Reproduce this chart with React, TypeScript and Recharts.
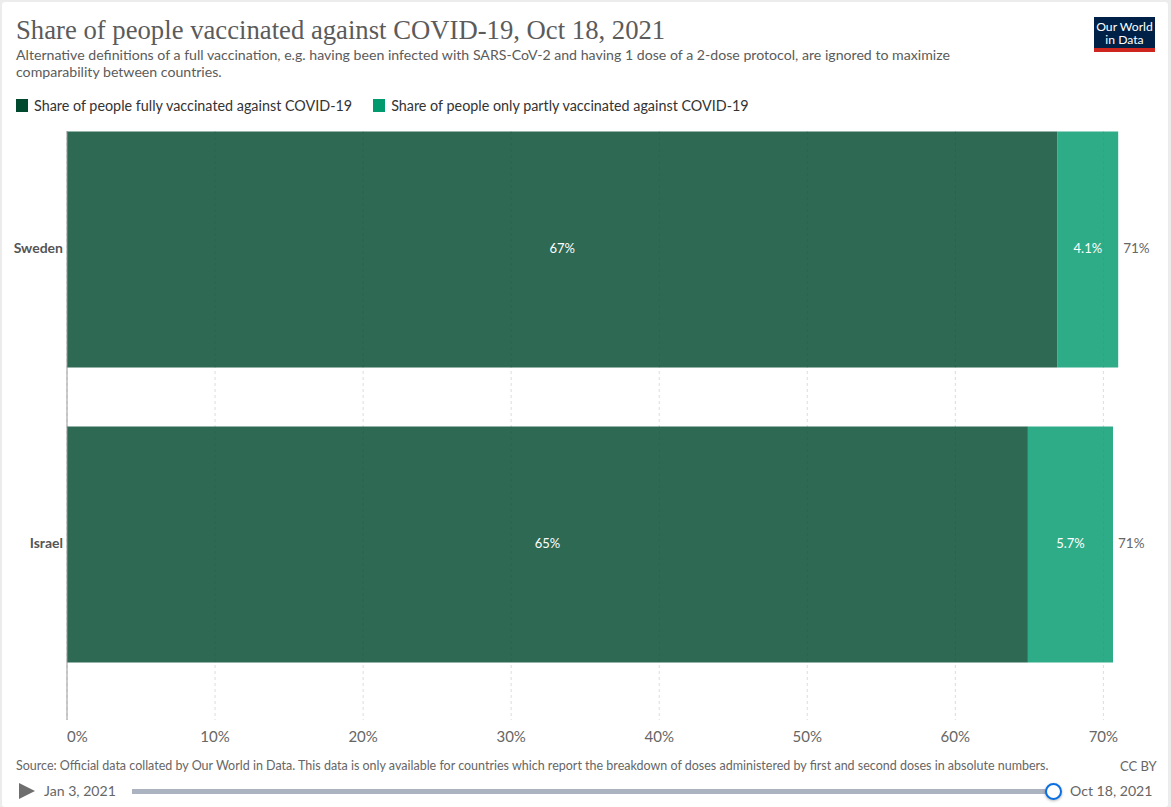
import { BarChart, Bar, XAxis, YAxis, CartesianGrid, LabelList, Legend } from "recharts";

const countries = ["Sweden", "Israel"];
const fully = [66.9, 64.9];
const partly = [4.1, 5.75];
const fullyLabels = ["67%", "65%"];
const partlyLabels = ["4.1%", "5.7%"];
const totalLabels = ["71%", "71%"];
const xTicks = [0, 10, 20, 30, 40, 50, 60, 70];
const seriesNames = [
  "Share of people fully vaccinated against COVID-19",
  "Share of people only partly vaccinated against COVID-19",
];
const seriesColors = ["#00482e", "#009a6e"];

const data = countries.map((name, i) => ({
  name,
  fully: fully[i],
  partly: partly[i],
  fullyLabel: fullyLabels[i],
  partlyLabel: partlyLabels[i],
  totalLabel: totalLabels[i],
}));

const FONT = "Lato, sans-serif";

function abs(left: number, top: number, extra: any = {}) {
  return { position: "absolute", left, top, whiteSpace: "nowrap", fontFamily: FONT, ...extra } as any;
}

function XTick({ x, y, payload }: any) {
  const first = payload.value === 0;
  return (
    <text x={x} y={y + 14} textAnchor={first ? "start" : "middle"} fontFamily={FONT} fontSize={15} fill="#666">
      {payload.value}%
    </text>
  );
}

function ChartLegend() {
  return (
    <div style={{ display: "flex", height: 18, fontFamily: FONT, fontSize: 14.35, color: "#333" }}>
      {seriesNames.map((name, i) => (
        <div key={name} style={{ display: "flex", alignItems: "center", marginRight: 21 }}>
          <span style={{ width: 12, height: 13, background: seriesColors[i], marginRight: 6 }} />
          {name}
        </div>
      ))}
    </div>
  );
}

export default function App() {
  return (
    <div style={{ position: "absolute", left: 0, top: 0, width: 1171, height: 807, background: "#ececec", overflow: "hidden" }}>
      <div style={{ position: "absolute", left: 2, top: 2, width: 1166, height: 805, background: "#fff", borderRadius: 3 }} />

      <div style={abs(16, 14, { fontFamily: "'Liberation Serif', serif", fontSize: 26.7, lineHeight: "32px", color: "#5b5b5b" })}>
        Share of people vaccinated against COVID-19, Oct 18, 2021
      </div>
      <div style={abs(16, 46, { fontSize: 14.15, lineHeight: "17px", color: "#5b5b5b" })}>
        Alternative definitions of a full vaccination, e.g. having been infected with SARS-CoV-2 and having 1 dose of a 2-dose protocol, are ignored to maximize
        <br />
        comparability between countries.
      </div>

      <div style={abs(1094, 17, { width: 61, height: 35, background: "#002147", borderBottom: "4px solid #ce261e", boxSizing: "border-box", color: "#fff", fontSize: 12.2, lineHeight: "13px", textAlign: "center", paddingTop: 3 })}>
        Our World
        <br />
        in Data
      </div>

      <div style={{ position: "absolute", left: 0, top: 0 }}>
        <BarChart
          width={1171}
          height={807}
          data={data}
          layout="vertical"
          barSize={236}
          margin={{ top: 113, right: 38, bottom: 0, left: 0 }}
        >
          <Legend
            verticalAlign="top"
            align="left"
            content={<ChartLegend />}
            wrapperStyle={{ left: 16, top: 96, width: 1000, height: 18 }}
          />
          <CartesianGrid horizontal={false} stroke="#ddd" strokeDasharray="3 3" verticalValues={xTicks} />
          <XAxis
            type="number"
            domain={[0, 72]}
            ticks={xTicks}
            height={87}
            axisLine={false}
            tickLine={false}
            tick={<XTick />}
          />
          <YAxis
            type="category"
            dataKey="name"
            width={67}
            padding={{ top: -29.5, bottom: 28.5 }}
            axisLine={{ stroke: "#999", strokeWidth: 1 }}
            tickLine={false}
            tickSize={0}
            tickMargin={4}
            tick={{ fontFamily: FONT, fontSize: 14, fontWeight: 700, fill: "#555", dy: -1 }}
          />
          <Bar dataKey="fully" stackId="a" name={seriesNames[0]} fill={seriesColors[0]} fillOpacity={0.82} isAnimationActive={false}>
            <LabelList dataKey="fullyLabel" position="center" fill="#fff" fontFamily={FONT} fontSize={13} dy={-1} />
          </Bar>
          <Bar dataKey="partly" stackId="a" name={seriesNames[1]} fill={seriesColors[1]} fillOpacity={0.82} isAnimationActive={false}>
            <LabelList dataKey="partlyLabel" position="center" fill="#fff" fontFamily={FONT} fontSize={13} dy={-1} />
            <LabelList dataKey="totalLabel" position="right" offset={5} fill="#666" fontFamily={FONT} fontSize={13.5} dy={-1} />
          </Bar>
        </BarChart>
      </div>

      <div style={abs(16, 758, { fontSize: 12.5, lineHeight: "16px", color: "#666" })}>
        Source: Official data collated by Our World in Data. This data is only available for countries which report the breakdown of doses administered by first and second doses in absolute numbers.
      </div>
      <div style={abs(1120, 758, { fontSize: 13, lineHeight: "16px", color: "#666" })}>CC BY</div>

      <div style={{ position: "absolute", left: 19, top: 783, width: 0, height: 0, borderLeft: "16px solid #6e6e6e", borderTop: "8.5px solid transparent", borderBottom: "8.5px solid transparent" }} />
      <div style={abs(44, 781, { fontSize: 14.1, lineHeight: "19px", color: "#666" })}>Jan 3, 2021</div>
      <div style={{ position: "absolute", left: 132, top: 789, width: 921, height: 5, background: "#abb3c1" }} />
      <div style={{ position: "absolute", left: 1045, top: 783, width: 13, height: 13, borderRadius: "50%", background: "#fff", border: "2px solid #0a6fe0", boxShadow: "0 1px 3px rgba(0,0,0,0.3)" }} />
      <div style={abs(1070, 781, { fontSize: 14.1, lineHeight: "19px", color: "#666" })}>Oct 18, 2021</div>
    </div>
  );
}
